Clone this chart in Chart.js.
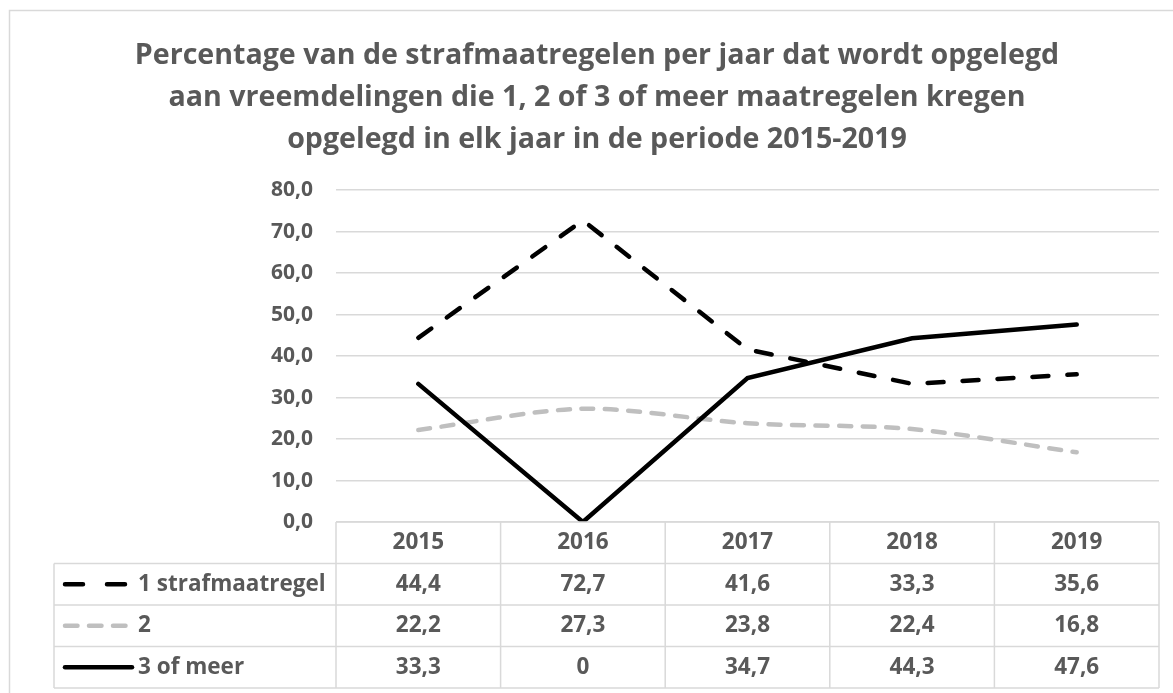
<!DOCTYPE html>
<html lang="nl">
<head>
  <meta charset="UTF-8">
  <title>Strafmaatregelen vreemdelingen 2015-2019</title>
  <script src="https://cdn.jsdelivr.net/npm/chart.js"></script>
  <style>
    html, body { margin: 0; padding: 0; background: #ffffff; }
    #chart { display: block; }
  </style>
</head>
<body>
  <canvas id="chart" width="1173" height="693"></canvas>

  <script>
    // Data
    const years = ['2015', '2016', '2017', '2018', '2019'];
    const eenMaatregel = [44.4, 72.7, 41.6, 33.3, 35.6];
    const tweeMaatregelen = [22.2, 27.3, 23.8, 22.4, 16.8];
    const drieOfMeer = [33.3, 0, 34.7, 44.3, 47.6];
    const seriesNames = ['1 strafmaatregel', '2', '3 of meer'];
    const yTicks = [0, 10, 20, 30, 40, 50, 60, 70, 80];

    const textColor = '#595959';
    const lineGrey = '#d9d9d9';
    const fontFamily = '"Open Sans", Lato, sans-serif';

    // Frame around the whole chart
    const framePlugin = {
      id: 'frame',
      beforeDraw(chart) {
        const ctx = chart.ctx;
        ctx.save();
        ctx.fillStyle = '#ffffff';
        ctx.fillRect(0, 0, chart.width, chart.height);
        ctx.strokeStyle = lineGrey;
        ctx.lineWidth = 1.5;
        ctx.strokeRect(9.5, 10.5, chart.width, chart.height);
        ctx.restore();
      }
    };

    // Data table under the plot, columns taken from the x scale
    const tablePlugin = {
      id: 'dataTable',
      afterDraw(chart) {
        const ctx = chart.ctx;
        const x = chart.scales.x;
        const y = chart.scales.y;
        const half = (x.getPixelForValue(1) - x.getPixelForValue(0)) / 2;
        const left = x.getPixelForValue(0) - half;
        const right = x.getPixelForValue(years.length - 1) + half;
        const top = y.getPixelForValue(0);
        const rowH = 41.5;
        const labelLeft = 54;
        const rows = chart.data.datasets;
        const keyDash = [[18, 24], [12.5, 11.5], []];

        ctx.save();
        ctx.strokeStyle = lineGrey;
        ctx.lineWidth = 1.5;
        ctx.beginPath();
        ctx.moveTo(left, top);
        ctx.lineTo(right, top);
        for (let r = 1; r <= rows.length + 1; r++) {
          ctx.moveTo(labelLeft, top + r * rowH);
          ctx.lineTo(right, top + r * rowH);
        }
        for (let i = 0; i <= years.length; i++) {
          const cx = left + i * 2 * half;
          ctx.moveTo(cx, top);
          ctx.lineTo(cx, top + (rows.length + 1) * rowH);
        }
        ctx.moveTo(labelLeft, top + rowH);
        ctx.lineTo(labelLeft, top + (rows.length + 1) * rowH);
        ctx.stroke();

        ctx.fillStyle = textColor;
        ctx.font = 'bold 22.5px ' + fontFamily;
        ctx.textBaseline = 'middle';
        ctx.textAlign = 'center';
        years.forEach((yr, i) => {
          ctx.fillText(yr, x.getPixelForValue(i), top + rowH / 2);
        });

        rows.forEach((ds, r) => {
          const cy = top + (r + 1) * rowH + rowH / 2;
          ctx.textAlign = 'center';
          ctx.fillStyle = textColor;
          ds.data.forEach((v, i) => {
            ctx.fillText(String(v).replace('.', ','), x.getPixelForValue(i), cy);
          });
          ctx.textAlign = 'left';
          ctx.fillText(ds.label, 138, cy);

          // legend key
          ctx.save();
          ctx.strokeStyle = ds.borderColor;
          ctx.lineWidth = ds.borderWidth;
          ctx.lineCap = 'round';
          ctx.setLineDash(keyDash[r]);
          ctx.beginPath();
          ctx.moveTo(65, cy);
          ctx.lineTo(keyDash[r].length ? 126 : 132, cy);
          ctx.stroke();
          ctx.restore();
        });
        ctx.restore();
      }
    };

    new Chart(document.getElementById('chart'), {
      type: 'line',
      data: {
        labels: years,
        datasets: [
          {
            label: seriesNames[0],
            data: eenMaatregel,
            borderColor: '#000000',
            borderWidth: 4.5,
            borderDash: [16, 19],
            borderCapStyle: 'round',
            pointRadius: 0,
            tension: 0,
            order: 2
          },
          {
            label: seriesNames[1],
            data: tweeMaatregelen,
            borderColor: '#bfbfbf',
            borderWidth: 4.5,
            borderDash: [12, 11.5],
            borderCapStyle: 'round',
            pointRadius: 0,
            tension: 0.3,
            order: 1
          },
          {
            label: seriesNames[2],
            data: drieOfMeer,
            borderColor: '#000000',
            borderWidth: 4.5,
            borderDash: [],
            borderCapStyle: 'round',
            pointRadius: 0,
            tension: 0,
            order: 0
          }
        ]
      },
      options: {
        responsive: false,
        animation: false,
        devicePixelRatio: 1,
        layout: { padding: { top: 10, right: 14, bottom: 171, left: 35 } },
        plugins: {
          legend: { display: false },
          tooltip: { enabled: false },
          title: {
            display: true,
            text: [
              'Percentage van de strafmaatregelen per jaar dat wordt opgelegd',
              'aan vreemdelingen die 1, 2 of 3 of meer maatregelen kregen',
              'opgelegd in elk jaar in de periode 2015-2019'
            ],
            color: textColor,
            font: { family: fontFamily, size: 28.6, weight: 'bold', lineHeight: 1.47 },
            padding: { top: 25, bottom: 29 }
          }
        },
        scales: {
          x: {
            type: 'category',
            offset: true,
            grid: { display: false },
            border: { display: false },
            ticks: { display: false },
            afterFit(scale) { scale.height = 0; }
          },
          y: {
            min: 0,
            max: 80,
            afterBuildTicks(scale) { scale.ticks = yTicks.map(v => ({ value: v })); },
            grid: { color: lineGrey, lineWidth: 1.5, drawTicks: false },
            border: { display: false },
            ticks: {
              color: textColor,
              padding: 23,
              font: { family: fontFamily, size: 21, weight: 'bold' },
              callback: v => v.toFixed(1).replace('.', ',')
            },
            afterFit(scale) { scale.width = 301; }
          }
        }
      },
      plugins: [framePlugin, tablePlugin]
    });
  </script>
</body>
</html>
